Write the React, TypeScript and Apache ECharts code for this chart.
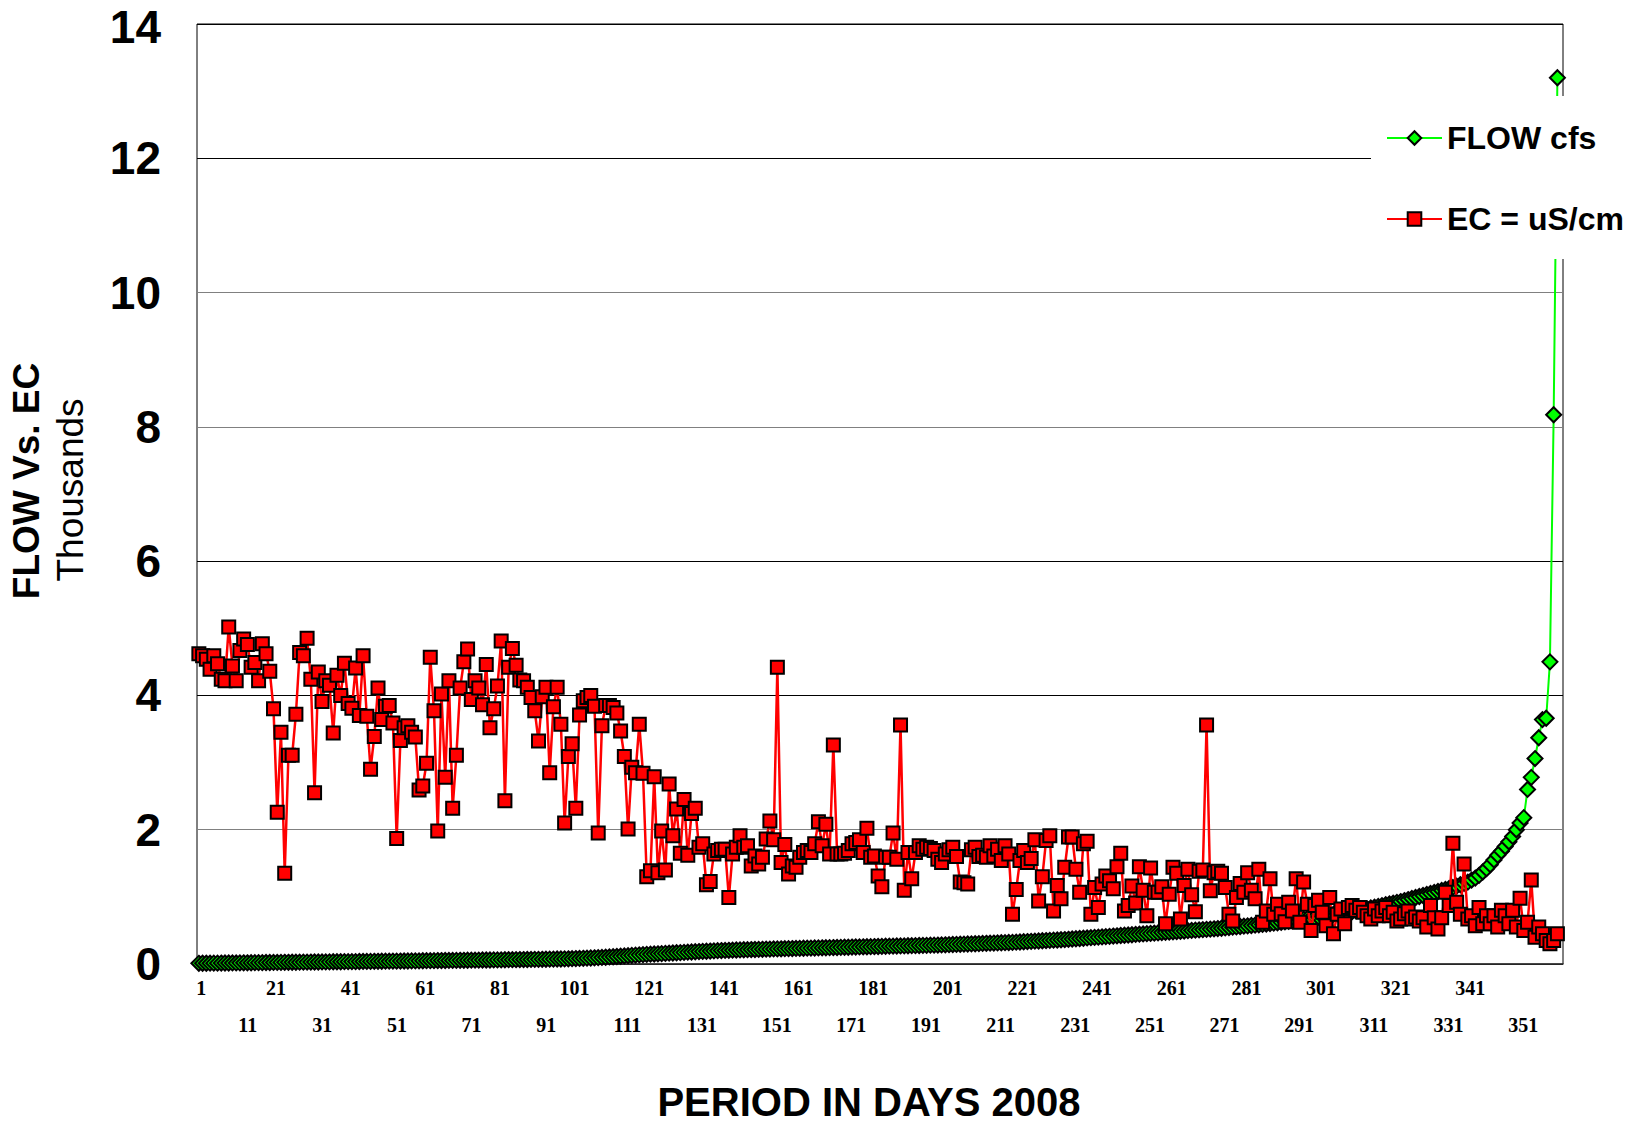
import React, { useEffect, useRef } from "react";
import * as echarts from "echarts";

// Category axis: days of 2008 (leap year)
const DAYS: string[] = Array.from({ length: 366 }, (_, i) => String(i + 1));

// FLOW (cfs, thousands), days 1..365
const FLOW_THOUSANDS: number[] = [
  0.010, 0.011, 0.011, 0.012, 0.013, 0.013, 0.014, 0.015, 0.015, 0.016,
  0.016, 0.017, 0.018, 0.018, 0.019, 0.020, 0.020, 0.021, 0.022, 0.022,
  0.023, 0.023, 0.024, 0.025, 0.025, 0.026, 0.026, 0.027, 0.028, 0.028,
  0.029, 0.030, 0.030, 0.031, 0.031, 0.032, 0.033, 0.033, 0.034, 0.035,
  0.035, 0.036, 0.036, 0.037, 0.038, 0.038, 0.039, 0.040, 0.040, 0.041,
  0.042, 0.042, 0.043, 0.043, 0.044, 0.045, 0.045, 0.046, 0.047, 0.047,
  0.048, 0.049, 0.049, 0.050, 0.051, 0.051, 0.052, 0.053, 0.053, 0.054,
  0.055, 0.055, 0.056, 0.057, 0.057, 0.058, 0.059, 0.059, 0.060, 0.061,
  0.061, 0.062, 0.063, 0.064, 0.064, 0.065, 0.066, 0.066, 0.067, 0.068,
  0.069, 0.069, 0.070, 0.071, 0.072, 0.073, 0.074, 0.075, 0.076, 0.077,
  0.079, 0.081, 0.083, 0.085, 0.087, 0.089, 0.092, 0.095, 0.098, 0.101,
  0.105, 0.108, 0.112, 0.116, 0.120, 0.124, 0.128, 0.132, 0.136, 0.140,
  0.143, 0.146, 0.149, 0.152, 0.155, 0.158, 0.161, 0.164, 0.167, 0.170,
  0.173, 0.176, 0.179, 0.182, 0.185, 0.188, 0.190, 0.193, 0.196, 0.198,
  0.200, 0.202, 0.204, 0.206, 0.208, 0.210, 0.212, 0.213, 0.215, 0.216,
  0.218, 0.219, 0.221, 0.222, 0.224, 0.225, 0.226, 0.228, 0.229, 0.230,
  0.232, 0.233, 0.234, 0.236, 0.237, 0.238, 0.240, 0.241, 0.242, 0.244,
  0.245, 0.246, 0.248, 0.249, 0.250, 0.252, 0.253, 0.254, 0.256, 0.257,
  0.258, 0.260, 0.261, 0.262, 0.264, 0.265, 0.266, 0.268, 0.269, 0.270,
  0.272, 0.273, 0.274, 0.276, 0.277, 0.278, 0.280, 0.281, 0.282, 0.284,
  0.286, 0.288, 0.290, 0.292, 0.294, 0.296, 0.298, 0.300, 0.302, 0.304,
  0.306, 0.308, 0.310, 0.312, 0.314, 0.316, 0.318, 0.320, 0.322, 0.325,
  0.328, 0.331, 0.334, 0.337, 0.340, 0.343, 0.346, 0.349, 0.352, 0.355,
  0.358, 0.361, 0.364, 0.368, 0.372, 0.376, 0.380, 0.384, 0.388, 0.392,
  0.396, 0.400, 0.404, 0.408, 0.412, 0.416, 0.420, 0.424, 0.428, 0.432,
  0.436, 0.440, 0.444, 0.448, 0.452, 0.456, 0.460, 0.464, 0.468, 0.472,
  0.476, 0.480, 0.484, 0.488, 0.492, 0.496, 0.500, 0.504, 0.508, 0.512,
  0.516, 0.520, 0.524, 0.528, 0.533, 0.538, 0.543, 0.548, 0.553, 0.558,
  0.563, 0.568, 0.573, 0.578, 0.584, 0.590, 0.596, 0.602, 0.608, 0.614,
  0.620, 0.628, 0.636, 0.644, 0.652, 0.660, 0.668, 0.676, 0.684, 0.692,
  0.700, 0.710, 0.720, 0.730, 0.740, 0.748, 0.756, 0.764, 0.772, 0.780,
  0.790, 0.800, 0.810, 0.822, 0.834, 0.846, 0.858, 0.870, 0.882, 0.894,
  0.906, 0.918, 0.930, 0.945, 0.960, 0.975, 0.990, 1.005, 1.020, 1.035,
  1.050, 1.065, 1.080, 1.095, 1.110, 1.125, 1.140, 1.160, 1.180, 1.200,
  1.220, 1.250, 1.280, 1.320, 1.370, 1.420, 1.480, 1.550, 1.620, 1.680,
  1.750, 1.820, 1.900, 2.000, 2.100, 2.180, 2.600, 2.780, 3.060, 3.370,
  3.640, 3.660, 4.500, 8.180, 13.200,
];

// EC (uS/cm, thousands) read from the red squares, days 1..365
const EC_THOUSANDS: number[] = [
  4.62, 4.59, 4.54, 4.39, 4.59, 4.47, 4.24, 4.22, 5.02, 4.44,
  4.22, 4.67, 4.84, 4.76, 4.42, 4.49, 4.22, 4.77, 4.62, 4.36,
  3.80, 2.26, 3.45, 1.35, 3.11, 3.11, 3.72, 4.64, 4.59, 4.85,
  4.24, 2.55, 4.35, 3.91, 4.22, 4.15, 3.44, 4.30, 4.00, 4.48,
  3.88, 3.81, 4.41, 3.70, 4.59, 3.69, 2.90, 3.39, 4.11, 3.64,
  3.84, 3.85, 3.59, 1.87, 3.33, 3.52, 3.55, 3.45, 3.38, 2.59,
  2.65, 2.99, 4.57, 3.77, 1.98, 4.02, 2.78, 4.22, 2.32, 3.11,
  4.11, 4.50, 4.69, 3.94, 4.22, 4.11, 3.86, 4.46, 3.52, 3.80,
  4.14, 4.81, 2.43, 4.42, 4.70, 4.45, 4.23, 4.22, 4.12, 3.97,
  3.77, 3.32, 3.98, 4.12, 2.85, 3.83, 4.12, 3.57, 2.10, 3.09,
  3.28, 2.32, 3.71, 3.92, 3.97, 4.00, 3.84, 1.95, 3.55, 3.85,
  3.85, 3.82, 3.74, 3.47, 3.09, 2.01, 2.93, 2.85, 3.57, 2.84,
  1.30, 1.39, 2.79, 1.36, 1.98, 1.40, 2.68, 1.91, 2.31, 1.65,
  2.45, 1.62, 2.24, 2.32, 1.74, 1.79, 1.18, 1.23, 1.64, 1.69,
  1.71, 1.71, 0.99, 1.64, 1.74, 1.91, 1.74, 1.76, 1.46, 1.61,
  1.49, 1.59, 1.86, 2.13, 1.85, 4.42, 1.51, 1.78, 1.34, 1.46,
  1.44, 1.59, 1.66, 1.69, 1.66, 1.79, 2.12, 1.76, 2.08, 1.64,
  3.26, 1.64, 1.64, 1.65, 1.69, 1.79, 1.81, 1.85, 1.66, 2.02,
  1.59, 1.61, 1.31, 1.15, 1.59, 1.59, 1.95, 1.56, 3.56, 1.10,
  1.66, 1.27, 1.66, 1.76, 1.71, 1.74, 1.72, 1.69, 1.56, 1.51,
  1.64, 1.70, 1.74, 1.60, 1.22, 1.21, 1.19, 1.70, 1.74, 1.60,
  1.62, 1.59, 1.76, 1.61, 1.71, 1.54, 1.76, 1.64, 0.74, 1.11,
  1.54, 1.69, 1.51, 1.57, 1.85, 0.94, 1.30, 1.84, 1.91, 0.79,
  1.17, 0.97, 1.44, 1.89, 1.89, 1.41, 1.07, 1.79, 1.83, 0.74,
  1.14, 0.84, 1.19, 1.31, 1.24, 1.12, 1.45, 1.65, 0.79, 0.87,
  1.16, 0.91, 1.45, 1.10, 0.72, 1.43, 1.07, 1.07, 1.15, 0.60,
  1.04, 1.44, 1.35, 0.67, 1.17, 1.41, 1.03, 0.78, 1.38, 1.40,
  3.56, 1.09, 1.36, 1.38, 1.35, 1.14, 0.74, 0.64, 0.99, 1.20,
  1.07, 1.36, 1.10, 0.97, 1.41, 0.62, 0.79, 1.27, 0.74, 0.89,
  0.75, 0.63, 0.92, 0.79, 1.27, 0.62, 1.22, 0.89, 0.50, 0.87,
  0.95, 0.77, 0.57, 0.99, 0.45, 0.74, 0.82, 0.60, 0.84, 0.87,
  0.80, 0.84, 0.77, 0.72, 0.67, 0.82, 0.72, 0.79, 0.84, 0.72,
  0.77, 0.64, 0.67, 0.75, 0.79, 0.67, 0.70, 0.64, 0.69, 0.55,
  0.87, 0.69, 0.52, 0.69, 1.07, 0.87, 1.80, 0.92, 0.74, 1.49,
  0.67, 0.72, 0.57, 0.84, 0.60, 0.72, 0.60, 0.72, 0.55, 0.80,
  0.72, 0.60, 0.80, 0.55, 0.98, 0.50, 0.62, 1.25, 0.40, 0.55,
  0.45, 0.35, 0.30, 0.35, 0.45,
];

const Y_MIN = 0;
const Y_MAX = 14;
const Y_STEP = 2;

const SANS = "'Liberation Sans', Arial, Helvetica, sans-serif";
const SERIF = "'Liberation Serif', 'Times New Roman', serif";

export default function App() {
  const ref = useRef<HTMLDivElement>(null);

  useEffect(() => {
    document.body.style.margin = "0";
    const el = ref.current!;
    const chart = echarts.init(el, null, { renderer: "svg" });

    const xLabelBase = {
      fontFamily: SERIF,
      fontWeight: "bold" as const,
      fontSize: 20,
      lineHeight: 24,
      color: "#000",
    };

    const yLabelBase = {
      fontFamily: SANS,
      fontWeight: "bold" as const,
      fontSize: 46,
      lineHeight: 40,
      color: "#000",
    };

    chart.setOption({
      animation: false,
      backgroundColor: "#ffffff",
      grid: {
        left: 197,
        top: 24,
        right: 64,
        bottom: 160,
        outerBoundsMode: "none",
        containLabel: false,
        show: true,
        borderColor: "#000",
        borderWidth: 1,
        backgroundColor: "#ffffff",
      },
      xAxis: {
        type: "category",
        data: DAYS,
        boundaryGap: true,
        axisLine: { show: true, lineStyle: { color: "#333", width: 1.5 } },
        axisTick: { show: false },
        splitLine: { show: false },
        axisLabel: {
          interval: 9,
          margin: 12,
          formatter: (v: string, i: number) => {
            const secondRow = Math.floor(i / 10) % 2 === 1;
            if (!secondRow) return "{a|" + v + "}";
            return "{" + (v.length >= 3 ? "c" : "b") + "|" + v + "}";
          },
          rich: {
            a: { ...xLabelBase, padding: [0, 0, 0, 5] },
            b: { ...xLabelBase, padding: [74, 0, 0, 23] },
            c: { ...xLabelBase, padding: [74, 0, 0, 36] },
          },
        },
      },
      yAxis: {
        type: "value",
        min: Y_MIN,
        max: Y_MAX,
        interval: Y_STEP,
        axisLine: { show: false },
        axisTick: { show: false },
        axisLabel: {
          margin: 36,
          formatter: (v: number) => (v === Y_MAX ? "{t|" + v + "}" : "{n|" + v + "}"),
          rich: {
            n: { ...yLabelBase },
            t: { ...yLabelBase, padding: [6, 0, 0, 0] },
          },
        },
        splitLine: {
          show: true,
          lineStyle: {
            color: ["#000", "#808080", "#000", "#000", "#808080", "#808080", "#000", "#000"],
            width: 1,
          },
        },
      },
      legend: {
        orient: "vertical",
        left: 1371,
        top: 96,
        backgroundColor: "#ffffff",
        padding: [26, 60, 24, 15],
        itemWidth: 55,
        itemHeight: 17,
        itemGap: 49,
        textStyle: {
          fontFamily: SANS,
          fontWeight: "bold",
          fontSize: 32,
          lineHeight: 31,
          color: "#000",
        },
        data: ["FLOW cfs", "EC = uS/cm"],
      },
      series: [
        {
          name: "FLOW cfs",
          type: "line",
          data: FLOW_THOUSANDS,
          symbol: "diamond",
          symbolSize: 15,
          showAllSymbol: true,
          lineStyle: { color: "#00ff00", width: 2 },
          itemStyle: { color: "#00ff00", borderColor: "#000", borderWidth: 2 },
          z: 2,
        },
        {
          name: "EC = uS/cm",
          type: "line",
          data: EC_THOUSANDS,
          symbol: "rect",
          symbolSize: 13,
          showAllSymbol: true,
          lineStyle: { color: "#ff0000", width: 2.5 },
          itemStyle: { color: "#ff0000", borderColor: "#000", borderWidth: 2 },
          z: 3,
        },
      ],
      graphic: [
        {
          type: "text",
          x: 26,
          y: 481,
          rotation: Math.PI / 2,
          style: {
            text: "FLOW Vs. EC",
            fontFamily: SANS,
            fontWeight: "bold",
            fontSize: 37,
            fill: "#000",
            align: "center",
            verticalAlign: "middle",
          },
        },
        {
          type: "text",
          x: 70,
          y: 490,
          rotation: Math.PI / 2,
          style: {
            text: "Thousands",
            fontFamily: SANS,
            fontWeight: "normal",
            fontSize: 37,
            fill: "#000",
            align: "center",
            verticalAlign: "middle",
          },
        },
        {
          type: "text",
          x: 869,
          y: 1102,
          style: {
            text: "PERIOD IN DAYS 2008",
            fontFamily: SANS,
            fontWeight: "bold",
            fontSize: 40,
            lineHeight: 40,
            fill: "#000",
            align: "center",
            verticalAlign: "middle",
          },
        },
      ],
    });

    return () => chart.dispose();
  }, []);

  return <div ref={ref} style={{ width: 1627, height: 1124, background: "#fff" }} />;
}
